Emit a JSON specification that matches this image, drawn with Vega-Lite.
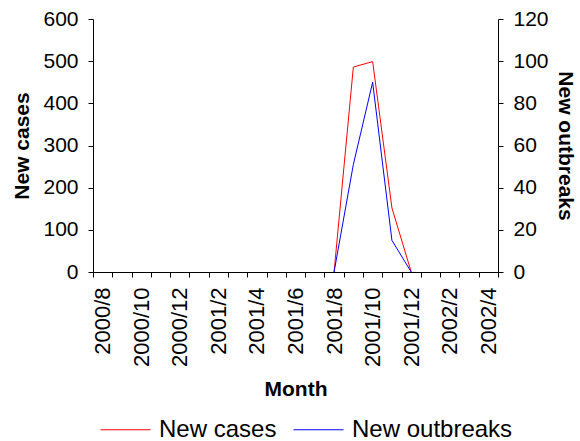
{
  "$schema": "https://vega.github.io/schema/vega-lite/v6.json",
  "autosize": {"type": "none"},
  "width": 405,
  "height": 253,
  "padding": {"left": 93, "top": 19, "right": 82, "bottom": 169},
  "background": "white",
  "config": {
    "view": {"stroke": null},
    "font": "Liberation Sans",
    "axis": {"grid": false, "domainColor": "black", "tickColor": "black", "labelColor": "black", "titleColor": "black", "labelFont": "Liberation Sans", "titleFont": "Liberation Sans", "labelFontSize": 22, "titleFontSize": 21, "titleFontWeight": "bold", "tickSize": 5, "labelPadding": 11}
  },
  "data": {
    "values": [
      {"month": "2001/8", "cases": 0, "outbreaks": 0},
      {"month": "2001/9", "cases": 486, "outbreaks": 51},
      {"month": "2001/10", "cases": 499, "outbreaks": 90},
      {"month": "2001/11", "cases": 152, "outbreaks": 15},
      {"month": "2001/12", "cases": 0, "outbreaks": 0}
    ]
  },
  "encoding": {
    "x": {
      "field": "month", "type": "ordinal",
      "scale": {"type": "band", "paddingInner": 0, "paddingOuter": 0,
        "domain": ["2000/8","2000/9","2000/10","2000/11","2000/12","2001/1","2001/2","2001/3","2001/4","2001/5","2001/6","2001/7","2001/8","2001/9","2001/10","2001/11","2001/12","2002/1","2002/2","2002/3","2002/4"]},
      "axis": {"title": "Month", "labelAngle": -90, "labelAlign": "right", "labelBaseline": "middle", "tickBand": "extent", "labelOverlap": false, "labelPadding": 10, "titlePadding": 12,
        "labelExpr": "indexof(['2000/8','2000/10','2000/12','2001/2','2001/4','2001/6','2001/8','2001/10','2001/12','2002/2','2002/4'], datum.value) >= 0 ? datum.label : ''"}
    }
  },
  "layer": [
    {
      "mark": {"type": "line", "strokeWidth": 1},
      "encoding": {
        "y": {"field": "cases", "type": "quantitative", "scale": {"domain": [0, 600], "nice": false},
          "axis": {"title": "New cases", "values": [0,100,200,300,400,500,600], "orient": "left", "labelFontSize": 21, "labelPadding": 10, "titlePadding": 10}},
        "color": {"datum": "New cases", "type": "nominal",
          "scale": {"domain": ["New cases", "New outbreaks"], "range": ["#ff0000", "#0000ff"]},
          "legend": {"title": null, "orient": "none", "legendX": 7, "legendY": 385, "direction": "horizontal", "symbolType": "stroke", "symbolSize": 2500, "symbolStrokeWidth": 1, "labelFontSize": 24, "labelLimit": 400, "labelColor": "black", "labelFont": "Liberation Sans", "labelOffset": 8, "columnPadding": 14}}
      }
    },
    {
      "mark": {"type": "line", "strokeWidth": 1},
      "encoding": {
        "y": {"field": "outbreaks", "type": "quantitative", "scale": {"domain": [0, 120], "nice": false},
          "axis": {"title": "New outbreaks", "values": [0,20,40,60,80,100,120], "orient": "right", "labelFontSize": 21, "labelPadding": 10, "titlePadding": 6}},
        "color": {"datum": "New outbreaks", "type": "nominal"}
      }
    }
  ],
  "resolve": {"scale": {"y": "independent"}}
}
